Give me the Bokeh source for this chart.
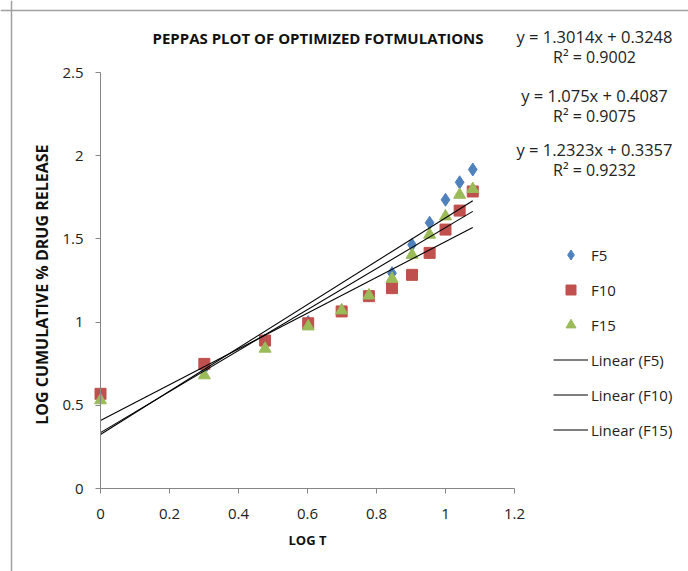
from bokeh.plotting import figure
from bokeh.models import Range1d, FixedTicker, Legend, LegendItem, Label, Span
from bokeh.embed import file_html
from bokeh.resources import INLINE

# ---- data ----
log_t = [0.0, 0.301, 0.477, 0.602, 0.699, 0.778, 0.845, 0.903, 0.954, 1.0, 1.041, 1.079]
f5 = [0.55, 0.72, 0.89, 1.00, 1.07, 1.16, 1.294, 1.465, 1.597, 1.735, 1.84, 1.917]
f10 = [0.569, 0.749, 0.889, 0.993, 1.064, 1.156, 1.204, 1.284, 1.416, 1.556, 1.67, 1.785]
f15 = [0.53, 0.68, 0.84, 0.974, 1.07, 1.16, 1.26, 1.404, 1.525, 1.635, 1.765, 1.80]
series_names = ["F5", "F10", "F15"]
slopes = [1.3014, 1.075, 1.2323]
intercepts = [0.3248, 0.4087, 0.3357]
r_squared = [0.9002, 0.9075, 0.9232]
x_ticks = [0, 0.2, 0.4, 0.6, 0.8, 1.0, 1.2]
x_tick_labels = ["0", "0.2", "0.4", "0.6", "0.8", "1", "1.2"]
y_ticks = [0, 0.5, 1.0, 1.5, 2.0, 2.5]
y_tick_labels = ["0", "0.5", "1", "1.5", "2", "2.5"]
title_text = "PEPPAS PLOT OF OPTIMIZED  FOTMULATIONS"
x_label = "LOG T"
y_label = "LOG CUMULATIVE  % DRUG  RELEASE"

# ---- layout (pixels) ----
W, H = 688, 571
AX_LEFT, AX_RIGHT = 100, 514      # pixel of x = 0 and x = 1.2
AX_BOTTOM, AX_TOP = 488, 72       # pixel of y = 0 and y = 2.5
X_MAX, Y_MAX = 1.2, 2.5
sx = (AX_RIGHT - AX_LEFT) / X_MAX
sy = (AX_BOTTOM - AX_TOP) / Y_MAX


def dx(px):
    return (px - AX_LEFT) / sx


def dy(py):
    return (AX_BOTTOM - py) / sy


FONT = "Open Sans"
TXT = "#222222"
colors = ["#4F81BD", "#C0504D", "#9BBB59"]
markers = ["diamond", "square", "triangle"]
sizes = [13, 11, 12]

p = figure(width=W, height=H, output_backend="svg", toolbar_location=None,
           x_range=Range1d(dx(0), dx(W)), y_range=Range1d(dy(H), dy(0)))
p.title = None
p.min_border = 0
p.outline_line_color = None
p.xgrid.grid_line_color = None
p.ygrid.grid_line_color = None
p.background_fill_color = "white"
p.border_fill_color = "white"

for ax, ticks, labels, bnd in ((p.xaxis[0], x_ticks, x_tick_labels, (0, X_MAX)),
                               (p.yaxis[0], y_ticks, y_tick_labels, (0, Y_MAX))):
    ax.fixed_location = 0
    ax.bounds = bnd
    ax.ticker = FixedTicker(ticks=ticks)
    ax.major_label_overrides = {t: l for t, l in zip(ticks, labels)}
    ax.axis_line_color = "#868686"
    ax.major_tick_line_color = "#868686"
    ax.major_tick_out = 5
    ax.major_tick_in = 0
    ax.minor_tick_line_color = None
    ax.major_label_text_font = FONT
    ax.major_label_text_font_size = "15px"
    ax.major_label_text_color = TXT
    ax.axis_label_text_font = FONT
    ax.axis_label_text_font_style = "bold"
    ax.axis_label_text_color = "#111111"

p.xaxis.axis_label = x_label
p.yaxis.axis_label = y_label
p.xaxis.axis_label_text_font_size = "13px"
p.yaxis.axis_label_text_font_size = "16px"
p.xaxis.major_label_standoff = 15
p.yaxis.major_label_standoff = 12
p.xaxis.axis_label_standoff = 9
p.yaxis.axis_label_standoff = 6

# outer frame of the chart area (left and top edges visible)
p.add_layout(Span(location=dx(11), dimension="height", line_color="#a0a0a0", line_width=1.5))
p.add_layout(Span(location=dy(10), dimension="width", line_color="#a0a0a0", line_width=1.5))

# scatter series
scatter_renderers = []
for ys, c, m, s in zip([f5, f10, f15], colors, markers, sizes):
    r = p.scatter(log_t, ys, marker=m, size=s, fill_color=c, line_color=c)
    scatter_renderers.append(r)

# trend lines from the fitted coefficients
x0, x1 = min(log_t), max(log_t)
line_renderers = []
for k, b in zip(slopes, intercepts):
    r = p.line([x0, x1], [k * x0 + b, k * x1 + b], line_color="black", line_width=1.1)
    line_renderers.append(r)

# legend
items = [LegendItem(label=n, renderers=[r]) for n, r in zip(series_names, scatter_renderers)]
items += [LegendItem(label=f"Linear ({n})", renderers=[r]) for n, r in zip(series_names, line_renderers)]
legend = Legend(items=items, location=(553, H - 442), padding=0, margin=0, spacing=10,
                glyph_width=35, glyph_height=25, label_height=25, label_standoff=3,
                label_text_font=FONT, label_text_font_size="15px", label_text_color=TXT,
                border_line_color=None, background_fill_alpha=0)
p.add_layout(legend, "center")

# title
p.add_layout(Label(x=dx(152), y=dy(37), text=title_text, text_align="left", text_baseline="middle",
                   text_font=FONT, text_font_style="bold", text_font_size="15px", text_color="#111111"))

# equation labels
eq_rows = [(36, 56), (95, 115), (149, 169)]
for k, b, r2, (ya, yb) in zip(slopes, intercepts, r_squared, eq_rows):
    p.add_layout(Label(x=dx(594), y=dy(ya), text=f"y = {k}x + {b}", text_align="center",
                       text_baseline="middle", text_font=FONT, text_font_size="16.5px", text_color=TXT))
    p.add_layout(Label(x=dx(594), y=dy(yb), text=f"R\u00b2 = {r2}", text_align="center",
                       text_baseline="middle", text_font=FONT, text_font_size="16px", text_color=TXT))

open("out.html", "w").write(file_html(p, INLINE))
